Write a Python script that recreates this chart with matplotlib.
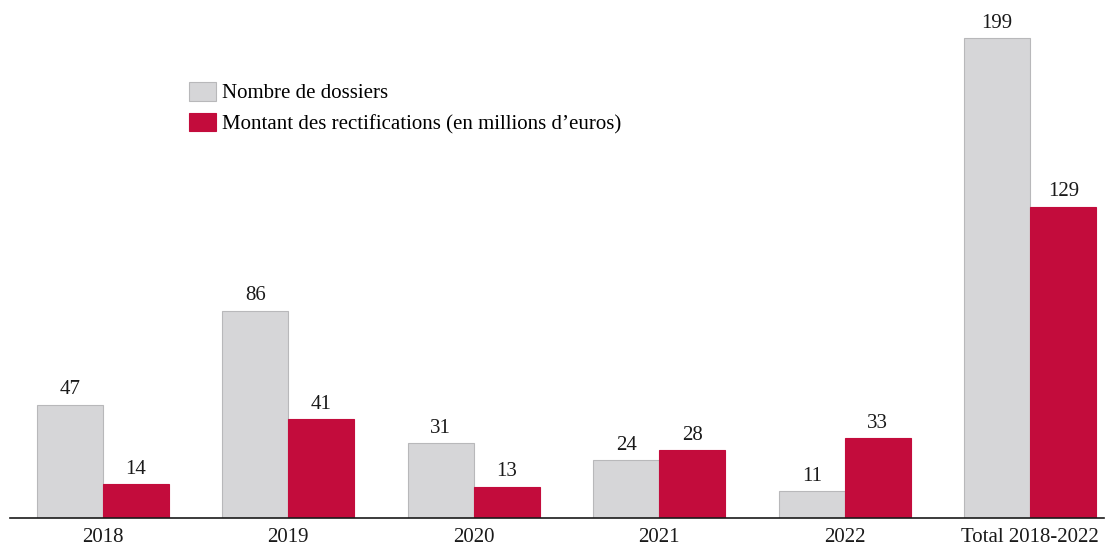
import numpy as np
from matplotlib import pyplot as plt

CATEGORIES = ['2018', '2019', '2020', '2021', '2022', 'Total 2018-2022']
DOSSIERS = [47, 86, 31, 24, 11, 199]
MONTANTS = [14, 41, 13, 28, 33, 129]

GREY = '#d6d6d8'
GREY_EDGE = '#b8b8ba'
CRIMSON = '#c30c3c'
TEXT = '#1a1a1a'
FONT_SIZE = 15

plt.rcParams['font.family'] = ['Liberation Serif', 'DejaVu Serif']

fig = plt.figure(figsize=(11.10, 5.45), dpi=100)
ax = fig.add_axes([0.009, 1 - 518 / 545, 0.986, 518 / 545])

x = np.arange(len(CATEGORIES))
width = 0.356

grey_bars = ax.bar(x - width / 2, DOSSIERS, width, color=GREY,
                   edgecolor=GREY_EDGE, linewidth=0.8,
                   label='Nombre de dossiers')
red_bars = ax.bar(x + width / 2, MONTANTS, width, color=CRIMSON,
                  edgecolor=CRIMSON, linewidth=0.8,
                  label='Montant des rectifications (en millions d\u2019euros)')

for bars in (grey_bars, red_bars):
    ax.bar_label(bars, padding=4, fontsize=FONT_SIZE, color=TEXT)

ax.set_xlim(-0.5, 5.4)
ax.set_ylim(0, 214.8)

ax.set_xticks(x)
ax.set_xticklabels(CATEGORIES, fontsize=FONT_SIZE, color=TEXT)
ax.tick_params(axis='x', length=0, pad=7)
ax.set_yticks([])

for side in ('left', 'right', 'top'):
    ax.spines[side].set_visible(False)
ax.spines['bottom'].set_color(TEXT)
ax.spines['bottom'].set_linewidth(1.2)

ax.legend(loc='upper left', bbox_to_anchor=(189 / 1110, 1 - 82 / 545),
          bbox_transform=fig.transFigure, frameon=False, fontsize=FONT_SIZE,
          handlelength=1.3, handleheight=1.0, handletextpad=0.3,
          labelspacing=0.45, borderpad=0, borderaxespad=0)

fig.savefig('out.png', dpi=100)
